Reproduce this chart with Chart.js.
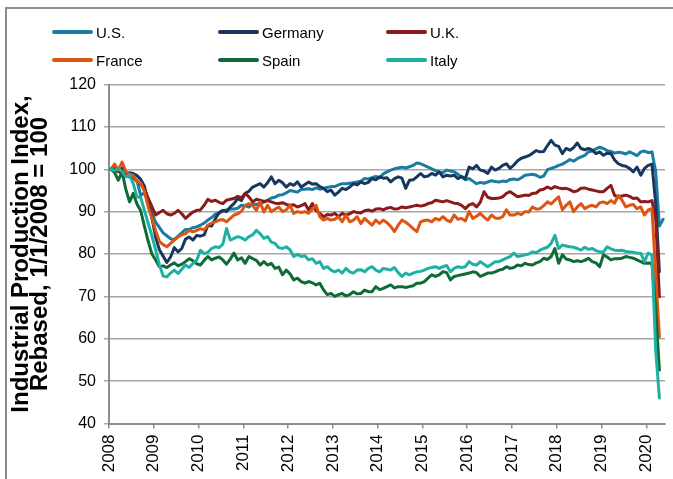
<!DOCTYPE html>
<html><head><meta charset="utf-8">
<script src="https://cdn.jsdelivr.net/npm/chart.js@4/dist/chart.umd.min.js"></script>
<style>
html,body{margin:0;padding:0;background:#fff;}
#wrap{position:relative;width:673px;height:479px;overflow:hidden;background:#fff;}
#frame{position:absolute;left:5px;top:7px;width:700px;height:500px;border-left:2px solid #8c8c8c;border-top:2px solid #8c8c8c;}
canvas{position:absolute;left:0;top:0;}
.lg{position:absolute;height:20px;font:15px "Liberation Sans",Arial,sans-serif;color:#000;display:flex;align-items:center;white-space:nowrap;}
.lg .ln{display:inline-block;width:41px;height:4px;border-radius:2px;margin-right:3px;}
</style></head>
<body>
<div id="wrap">
<div id="frame"></div>
<canvas id="c" width="673" height="479"></canvas>
<div id="legend"></div>
</div>
<script>
// ---- data (monthly, Jan 2008 onward) ----
const seriesNames = ['U.S.', 'Germany', 'U.K.', 'France', 'Spain', 'Italy'];
const yearLabels = [2008,2009,2010,2011,2012,2013,2014,2015,2016,2017,2018,2019,2020];

const usValues = [
100,99.7,99.5,99,98.7,98.3,97.9,97.3,93.8,94.5,92.3,89.6,
87.5,86.3,85,84.3,83.6,83.4,84.2,85,85.8,85.8,86.2,86.4,
86.8,87.3,88,88.6,89.4,89.6,90.2,90.4,90.6,90.6,90.8,91.5,
91.4,91.1,91.8,91.7,92,92.2,92.7,93.2,93.4,93.9,94,94.4,
95,94.8,94.6,95.2,95.3,95.4,95.2,95.6,95.3,95.5,95.7,95.9,
95.9,96.3,96.6,96.6,96.7,96.8,97,97.2,97.8,97.7,98,98.3,
98,98.9,99.4,99.8,100.1,100.3,100.5,100.3,100.6,100.9,101.5,101.3,
100.9,100.5,100.1,99.7,99.3,99.2,99.8,99.6,99.4,98.8,98.2,97.5,
97.8,97.2,96.6,96.9,96.7,97,97.3,97.1,97,97.2,97.1,97.6,
97.7,97.5,98,98.6,98.7,98.8,98.6,98.1,98.4,99.9,100.2,100.5,
100.9,101.2,101.7,102.3,101.9,102.5,102.9,103.3,104.1,104.3,104.8,105.2,
104.9,104.4,104.2,103.8,104,103.9,103.6,104.1,103.7,103.2,104.1,104.3,
103.9,104.1,99.5,86.6,88.2];

const germanyValues = [
100,100.4,99.5,100.3,98.8,99.2,99,98.5,97.6,96,92,88.5,
84,81,79.5,78,79.3,81.5,80.5,81.3,83.5,84,83.3,84.4,
84.2,84.5,86.8,86.6,88.3,89.8,90.3,90,91.1,91.9,93.1,92.6,
94.3,94.8,95.8,96.2,96.6,95.8,96.8,98.2,96.6,97.4,96.8,95.8,
96.6,96.2,97,95.8,96.4,97,96.5,96.6,95.9,95.5,94.7,95.1,
93.9,94.6,95.5,95.2,95.8,96.6,96.3,97,96.6,96.9,97.8,97.5,
98.2,97.9,98,97,97.8,98.2,97.9,95.5,97.4,97.5,98.2,99,
98.2,98.4,99,98.6,99.4,98.2,98.6,98.4,98.6,97.8,98.3,97.8,
100.5,100.1,100.9,99.8,99.6,99,100.5,99.8,100.2,100.9,101.3,100.2,
101,102,102.6,102.9,103.2,103.8,104.4,104.1,104.2,105.6,106.8,105.7,
105.4,103.7,104.9,104.5,105.1,106.2,104.9,104.6,104.9,104.5,103.7,104.1,
103.3,103.8,103.7,102.2,101.3,100.9,100.7,100.2,99.4,100.5,98.6,100.2,
100.9,101.2,92,75.8];

const ukValues = [
100,99.8,99.5,99.2,98.7,98.2,97.9,97.2,96.5,95.3,93.2,91.2,
89.2,89.8,90.3,89.5,89.2,89.6,90.3,89.5,88.4,89.2,89.9,90.3,
90.4,91.5,92.9,92.4,92.7,92.2,91.9,92.7,92.9,93.1,93.6,93.3,
94.3,93.5,92.3,92.9,92.7,92.4,92.6,92.3,92,91.9,92.1,91.7,
91.5,91.6,91.1,91.4,91.9,90.4,91.9,90.2,89.6,88.8,89.3,89.2,
89.6,88.8,89.6,89.2,89.5,90,89.8,89.7,90.2,90.4,90.1,90.6,
90.7,90.4,90.8,91,90.6,90.7,91.1,90.9,91.1,91.3,91.5,91.3,
91.5,91.9,92.1,92.7,92.5,92.3,92.6,92.3,92,91.9,91.5,90.7,
91.6,91.9,91.1,92.2,94.7,93.4,93.1,93.1,93.2,93.5,94.3,94.7,
94.1,93.5,93.7,93.9,93.8,94.3,94.4,95.1,95.3,95.8,95.4,95.9,
95.6,95.4,95.5,95.2,94.7,94.9,95.5,95.6,95.3,95.1,94.9,94.7,
94.7,95.5,96.2,93.8,93.5,93.7,93.9,93.6,93.1,93.2,92.3,92.4,
92.3,92.6,88.5,69.9];

const franceValues = [
100,101.2,99.8,101.7,99.5,98.8,98.6,97,96.8,94.8,91.1,88.5,
85.5,83,82.2,81.7,82.5,83.3,84,84.5,84.8,85.6,85.2,85.6,
86,85.7,86.8,87.3,87.6,88,88.1,87.6,88.4,89.2,89.5,90.1,
91.5,91.9,91.5,90.3,92.3,89.9,91.5,90,90.6,91.1,90,90.4,
91.5,89.6,90,89.8,90,89.6,90.6,91.5,88.8,88,88.4,88,
88.2,88.8,87.6,89.2,87.6,88,88.8,87.2,88.4,87.6,86.8,88,
87.2,88,87.4,86.5,85.3,86.8,88,87.5,86.8,86,85.3,87.6,
87.9,88,87.6,88.4,88,88.8,88,87.6,89.2,88.2,88.4,87.8,
90,88.4,88.9,89.6,88.7,88,89.2,88.5,88.4,88.8,90.4,89.2,
89.2,89.6,89.3,90,89.9,91.1,90.6,90.7,91.4,92.3,91.8,92.7,
93.5,90.4,91.5,92.3,90,91.1,91.9,90.7,91.2,91.5,91.1,92.1,
92.3,91.9,92.6,92,93.8,92.7,91.1,91.5,91.7,90.7,91.1,89.2,
90.4,90.7,75.5,60.5];

const spainValues = [
100,99.2,97.4,99.4,95.3,92.3,94.3,91.8,90.2,86.5,83,80,
78.6,77,77.2,76.8,77.4,77.9,77.2,77.6,78.2,78.9,78.4,77.7,
77.4,78.5,79.4,78.6,79,79.3,78.6,77.6,78.8,80.2,78.6,79.1,
77.8,79.4,78.9,78.5,77.4,78.2,77.4,77.8,76.6,76.9,75.1,76.2,
75.3,73.9,74.3,73.5,73.1,73.5,73.2,72.7,73.1,71.5,70.4,70.7,
70,70.4,70.7,70.1,70.4,71.1,70.6,70.7,71.5,71.1,71.1,72.3,
71.6,71.9,72.3,72.7,72,72.3,72.3,72.1,72.3,72.5,73.1,73.1,
73.5,74.3,75.1,74.7,75.1,75.8,75.6,73.9,74.7,74.9,75.1,75.3,
75.5,75.8,75.6,74.7,75.1,75.5,75.5,75.8,76.2,76.4,77,76.6,
76.8,77.4,77.2,77.8,77.5,77.4,77.9,78.2,79,78.7,79.4,81.3,
77.8,79.8,78.8,78.6,78.2,78.4,78.2,78.5,79,78.2,77.9,77,
79.8,79.3,78.6,78.9,78.9,79,79.4,79.2,79,78.6,78.2,77.8,
77.9,77.8,67,52.6];

const italyValues = [
100,99.7,100.2,99.5,98.2,98.6,96.6,93.5,93.3,90.3,87.2,84.3,
81,77.5,74.8,74.6,75.5,76.2,75.4,76.4,77.4,76.8,77.8,78.5,
80.9,80.1,80.4,81.3,81.7,81.5,82.3,86,83.3,83.7,84.1,83.8,
83.3,84.1,84.5,85.6,84.8,83.7,84.1,82.8,82.5,81.5,81.3,81.7,
81,79.4,79.9,79.4,79.6,78.6,78.9,77.8,78.2,76.6,77,76.2,
75.8,76.2,75.5,76.6,75.8,75.5,76.2,76.3,75.8,76.6,77,76.2,
75.8,76.6,76.4,76.2,76.8,75.6,74.7,75.5,75.1,75.5,75.8,75.9,
76.2,76.6,76.8,77,76.6,77,77.3,75.8,76.6,77,76.8,77,
78.2,77.6,77.4,78.2,77.6,77,77.6,78.2,78.2,78.6,79,79.4,
80.2,79.4,79.6,79.8,80,80.5,80.3,80.9,81.3,81.6,82.5,84.4,
81.3,82.1,81.9,81.7,81.6,81.3,80.9,81.6,81.1,81.3,80.8,80.5,
80.5,81.7,81.2,80.9,80.8,80.9,80.6,80.5,80.4,80.2,80.2,78.2,
80.2,79.8,57.5,46];

const seriesColors = ['#1B7BA0', '#17375E', '#8B1A1A', '#DD5413', '#0E6B35', '#1DB0A3'];
const allValues = [usValues, germanyValues, ukValues, franceValues, spainValues, italyValues];

// ---- legend (HTML) ----
const legendPos = [[52,22],[218,22],[386,22],[52,50],[218,50],[386,50]];
const lg = document.getElementById('legend');
seriesNames.forEach((n,i)=>{
  const d = document.createElement('div');
  d.className='lg';
  d.style.left = legendPos[i][0]+'px';
  d.style.top = legendPos[i][1]+'px';
  d.innerHTML = '<span class="ln" style="background:'+seriesColors[i]+'"></span><span>'+n+'</span>';
  lg.appendChild(d);
});

const toPoints = vals => vals.map((v,i)=>({x:i+0.5, y:v}));

const datasets = seriesNames.map((n,i)=>({
  label:n,
  data:toPoints(allValues[i]),
  borderColor:seriesColors[i],
  backgroundColor:seriesColors[i],
  borderWidth:3,
  pointRadius:0,
  tension:0,
  fill:false,
  borderJoinStyle:'round',
  borderCapStyle:'round',
  order: seriesNames.length - i
}));

const font = '"Liberation Sans", Arial, sans-serif';

new Chart(document.getElementById('c'), {
  type:'line',
  data:{datasets},
  options:{
    responsive:false,
    animation:false,
    devicePixelRatio:1,
    layout:{padding:{left:0,right:8,top:84.5,bottom:0}},
    plugins:{legend:{display:false},tooltip:{enabled:false}},
    scales:{
      x:{
        type:'linear',
        min:0,
        max:149,
        afterBuildTicks:(s)=>{ s.ticks = yearLabels.map((y,i)=>({value:i*12})); },
        afterFit:(s)=>{ s.height = 55.5; },
        ticks:{
          autoSkip:false,
          minRotation:90,
          maxRotation:90,
          padding:6,
          color:'#000',
          font:{family:font,size:17},
          callback:(v)=> String(yearLabels[0] + Math.round(v/12))
        },
        grid:{drawOnChartArea:false,drawTicks:true,tickLength:5,color:'#8c8c8c',lineWidth:1.5},
        border:{display:true,color:'#8c8c8c',width:2}
      },
      y:{
        min:40,
        max:120,
        afterFit:(s)=>{ s.width = 109; },
        ticks:{stepSize:10,padding:8,color:'#000',font:{family:font,size:16}},
        grid:{color:'#a6a6a6',lineWidth:1.5,tickLength:5,drawTicks:true},
        border:{display:true,color:'#8c8c8c',width:2},
        title:{
          display:true,
          text:['Industrial Production Index,','Rebased, 1/1/2008 = 100'],
          color:'#000',
          font:{family:font,size:24,weight:'bold',lineHeight:'19px'},
          padding:{top:12,bottom:0}
        }
      }
    }
  }
});
</script>
</body></html>
